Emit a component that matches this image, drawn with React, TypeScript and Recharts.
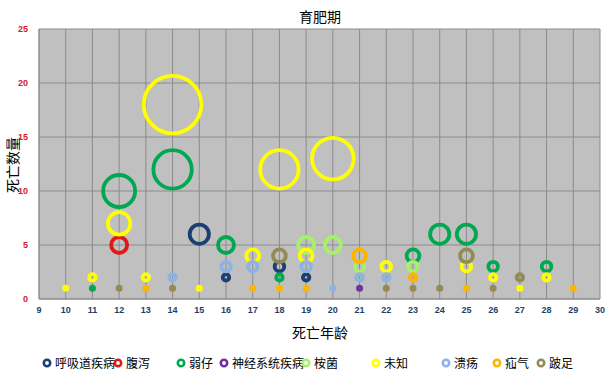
import React from "react";
import { ScatterChart, Scatter, XAxis, YAxis, ZAxis, CartesianGrid } from "recharts";

// [死亡年龄, 死亡数量] — bubble size follows the count
const respiratory = [[15, 6], [16, 2], [18, 3], [19, 2]];
const diarrhea = [[12, 5]];
const weak = [[11, 1], [12, 10], [14, 12], [16, 5], [18, 2], [23, 4], [24, 6], [25, 6], [26, 3], [28, 3]];
const neuro = [[21, 1]];
const clostridium = [[19, 5], [20, 5], [21, 3], [23, 3]];
const unknown = [[10, 1], [11, 2], [12, 7], [13, 2], [14, 18], [15, 1], [17, 4], [18, 12], [19, 4], [20, 13], [22, 3], [25, 3], [26, 2], [27, 1], [28, 2]];
const ulcer = [[14, 2], [16, 3], [17, 3], [19, 3], [20, 1], [21, 2], [22, 2]];
const hernia = [[13, 1], [17, 1], [18, 1], [19, 1], [21, 4], [23, 2], [25, 1], [29, 1]];
const lame = [[12, 1], [14, 1], [18, 4], [22, 1], [23, 1], [24, 1], [25, 4], [26, 1], [27, 2]];

const seriesNames = ["呼吸道疾病", "腹泻", "弱仔", "神经系统疾病", "桉菌", "未知", "溃疡", "疝气", "跛足"];
const seriesData = [respiratory, diarrhea, weak, neuro, clostridium, unknown, ulcer, hernia, lame];
const seriesColors = ["#1B3F73", "#E01818", "#00A850", "#7030A0", "#A6F06A", "#FFFF00", "#8DB3E2", "#FFB400", "#948A54"];

const xTicks = [9, 10, 11, 12, 13, 14, 15, 16, 17, 18, 19, 20, 21, 22, 23, 24, 25, 26, 27, 28, 29, 30];
const yTicks = [0, 5, 10, 15, 20, 25];

// legend marker x positions (Excel spaces them unevenly)
const legendX = [47, 118, 181, 224, 306, 376, 446, 497, 541];

const MAX_COUNT = 18;
const PX_PER_COUNT = 1.6;

const toPoints = (arr: number[][]) => arr.map(([x, y]) => ({ x, y, z: y * y }));

function Ring(props: any) {
  const { cx, cy, size, color } = props;
  const r = Math.sqrt(Math.max(size, 0) / Math.PI);
  return <circle cx={cx} cy={cy} r={r} fill="none" stroke={color} strokeWidth={3.8} />;
}

const cjk = '"Noto Sans CJK SC", "Noto Sans", sans-serif';

export default function App() {
  return (
    <div style={{ position: "absolute", left: 0, top: 0, width: 610, height: 377, background: "#fff", fontFamily: cjk }}>
      <div style={{ position: "absolute", left: 0, width: 640, top: 6, textAlign: "center", fontSize: 14, color: "#000" }}>
        育肥期
      </div>
      <div
        style={{
          position: "absolute",
          left: 12,
          top: 165,
          transform: "translate(-50%, -50%) rotate(-90deg)",
          fontSize: 14,
          whiteSpace: "nowrap",
          color: "#000",
        }}
      >
        死亡数量
      </div>
      <ScatterChart width={610} height={377} margin={{ top: 29, right: 10, bottom: 48, left: 0 }}>
        <CartesianGrid stroke="#8C8C8C" fill="#C0C0C0" fillOpacity={1} />
        <XAxis
          type="number"
          dataKey="x"
          domain={[9, 30]}
          ticks={xTicks}
          interval={0}
          height={30}
          tickLine={false}
          axisLine={{ stroke: "#8C8C8C" }}
          tickMargin={2}
          tick={{ fill: "#1F3F66", fontSize: 9, fontWeight: "bold", fontFamily: "Liberation Sans, Arial" }}
        />
        <YAxis
          type="number"
          dataKey="y"
          domain={[0, 25]}
          ticks={yTicks}
          width={39}
          tickLine={false}
          axisLine={{ stroke: "#8C8C8C" }}
          tickMargin={5}
          tick={{ fill: "#D0202E", fontSize: 9, fontWeight: "bold", fontFamily: "Liberation Sans, Arial" }}
        />
        <ZAxis
          type="number"
          dataKey="z"
          domain={[0, MAX_COUNT * MAX_COUNT]}
          range={[0, Math.PI * (PX_PER_COUNT * MAX_COUNT) ** 2]}
        />
        {seriesData.map((d, i) => (
          <Scatter
            key={seriesNames[i]}
            name={seriesNames[i]}
            data={toPoints(d)}
            isAnimationActive={false}
            shape={(p: any) => <Ring {...p} color={seriesColors[i]} />}
          />
        ))}
      </ScatterChart>
      <div style={{ position: "absolute", left: 0, width: 640, top: 322, textAlign: "center", fontSize: 14, color: "#000" }}>
        死亡年龄
      </div>
      {seriesNames.map((name, i) => (
        <div
          key={name}
          style={{
            position: "absolute",
            left: legendX[i] - 5,
            top: 354,
            display: "flex",
            alignItems: "center",
            fontSize: 12,
            whiteSpace: "nowrap",
            color: "#000",
          }}
        >
          <svg width={10} height={10} style={{ marginRight: 3 }}>
            <circle cx={5} cy={5} r={3.2} fill="none" stroke={seriesColors[i]} strokeWidth={2.6} />
          </svg>
          {name}
        </div>
      ))}
    </div>
  );
}
